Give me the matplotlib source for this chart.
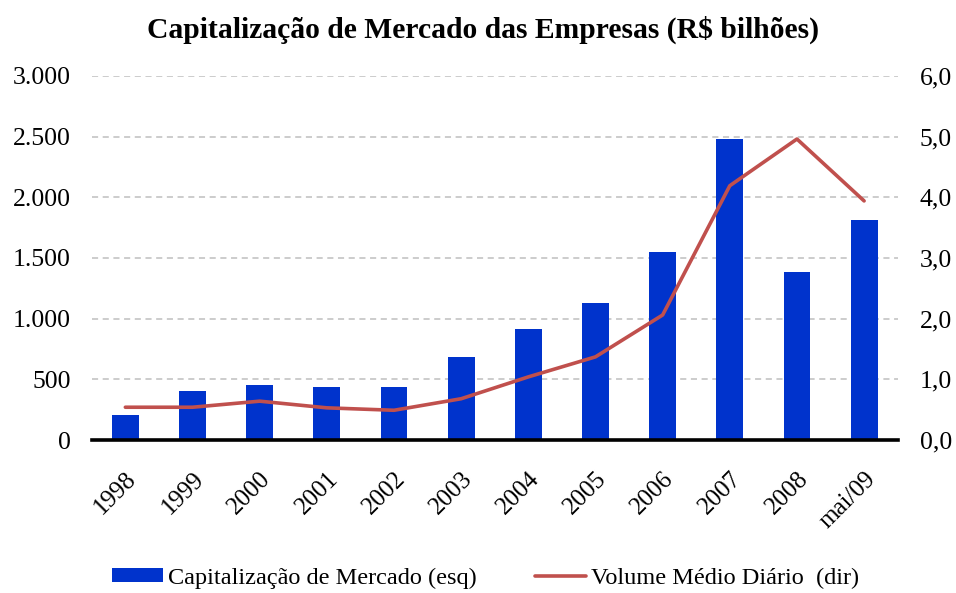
import numpy as np
import matplotlib.pyplot as plt
from matplotlib.ticker import FuncFormatter

plt.rcParams['font.family'] = ['Liberation Serif', 'DejaVu Serif']

categories = ['1998', '1999', '2000', '2001', '2002', '2003', '2004',
              '2005', '2006', '2007', '2008', 'mai/09']
capitalizacao = [205, 405, 453, 437, 437, 684, 915, 1129, 1550, 2481, 1385, 1814]
volume_medio = [0.54, 0.54, 0.64, 0.53, 0.49, 0.68, 1.04, 1.37, 2.06, 4.19, 4.96, 3.94]

fig = plt.figure(figsize=(9.56, 5.93), dpi=100)
ax = fig.add_axes([0.096, 0.258, 0.843, 0.614])
ax2 = ax.twinx()

x = np.arange(len(categories))
ax.bar(x, capitalizacao, width=0.4, color='#0033CC', zorder=2,
       label='Capitalização de Mercado (esq)')
ax2.plot(x, volume_medio, color='#C0504D', linewidth=2.6, solid_capstyle='round',
         label='Volume Médio Diário  (dir)')

ax.set_xlim(-0.5, len(categories) - 0.5)
ax.set_ylim(0, 3000)
ax2.set_ylim(0, 6)
ax.set_yticks(np.arange(0, 3001, 500))
ax2.set_yticks(np.arange(0, 6.01, 1))

ax.yaxis.set_major_formatter(FuncFormatter(lambda v, p: f'{int(v):,}'.replace(',', '.')))
ax2.yaxis.set_major_formatter(FuncFormatter(lambda v, p: f'{v:.1f}'.replace('.', ',')))

for gy in np.arange(500, 3001, 500):
    ax.axhline(gy, color='#BFBFBF', linestyle=(0, (4, 3)), linewidth=1.1, zorder=0)

ax.set_xticks(x)
ax.set_xticklabels(categories, rotation=45, ha='right', rotation_mode='anchor', fontsize=18)
ax.tick_params(axis='x', length=0, pad=20)
ax.tick_params(axis='y', length=0, labelsize=18.5, pad=15)
ax2.tick_params(axis='y', length=0, labelsize=18.5, pad=16)

for a in (ax, ax2):
    for s in ('top', 'left', 'right'):
        a.spines[s].set_visible(False)
ax2.spines['bottom'].set_visible(False)
ax.spines['bottom'].set_linewidth(2.6)
ax.spines['bottom'].set_color('black')

fig.text(0.505, 0.949, 'Capitalização de Mercado das Empresas (R$ bilhões)',
         ha='center', va='center', fontsize=21.3, fontweight='bold')

h1, l1 = ax.get_legend_handles_labels()
h2, l2 = ax2.get_legend_handles_labels()
fig.legend(h1 + h2, l1 + l2, loc='center', bbox_to_anchor=(0.508, 0.025), ncol=2,
           frameon=False, fontsize=17.5, handlelength=2.1, handleheight=0.55,
           handletextpad=0.2, columnspacing=2.4)

fig.savefig('out.png', dpi=100)
